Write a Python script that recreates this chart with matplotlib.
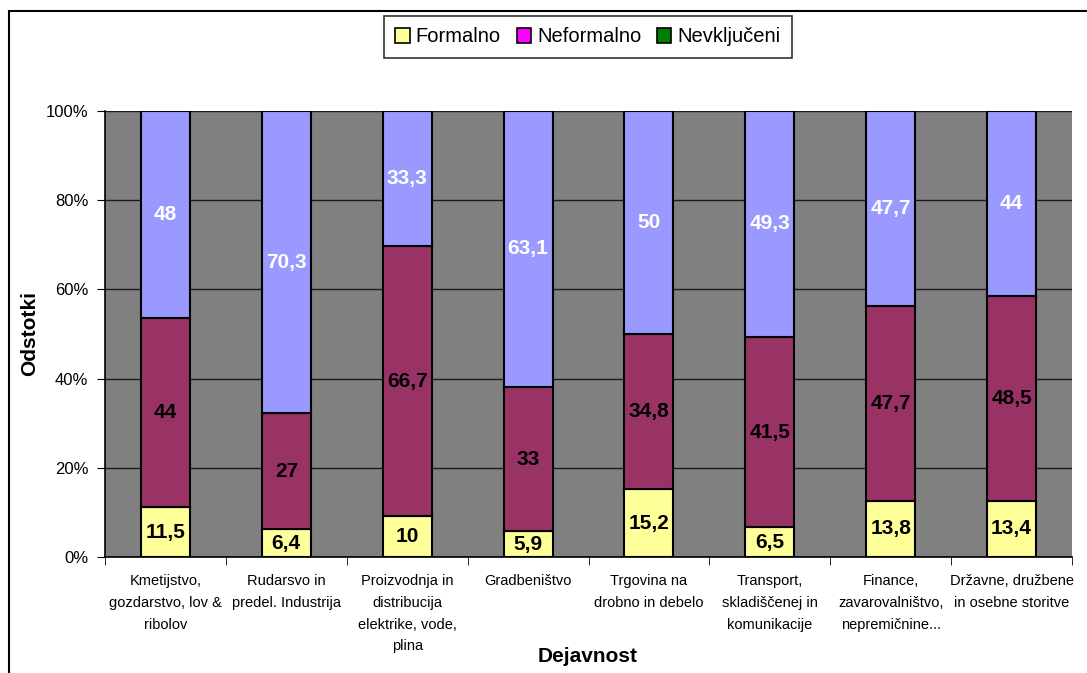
import matplotlib.pyplot as plt
import numpy as np
from matplotlib.patches import Patch, Rectangle

plt.rcParams['font.family'] = ['Liberation Sans', 'DejaVu Sans']

categories = [
    'Kmetijstvo,\ngozdarstvo, lov &\nribolov',
    'Rudarsvo in\npredel. Industrija',
    'Proizvodnja in\ndistribucija\nelektrike, vode,\nplina',
    'Gradbeništvo',
    'Trgovina na\ndrobno in debelo',
    'Transport,\nskladiščenej in\nkomunikacije',
    'Finance,\nzavarovalništvo,\nnepremičnine...',
    'Državne, družbene\nin osebne storitve',
]
formalno = [11.5, 6.4, 10, 5.9, 15.2, 6.5, 13.8, 13.4]
neformalno = [44, 27, 66.7, 33, 34.8, 41.5, 47.7, 48.5]
nevkljuceni = [48, 70.3, 33.3, 63.1, 50, 49.3, 47.7, 44]

series = [formalno, neformalno, nevkljuceni]
bar_colors = ['#FFFF99', '#993366', '#9999FF']
text_colors = ['black', 'black', 'white']
legend_names = ['Formalno', 'Neformalno', 'Nevključeni']
legend_colors = ['#FFFF99', '#FF00FF', '#008000']

fig = plt.figure(figsize=(10.87, 6.73), dpi=100)
ax = fig.add_axes([105 / 1087, 116 / 673, 967 / 1087, 446 / 673])
ax.set_facecolor('#808080')

data = np.array(series, dtype=float)
shares = data / data.sum(axis=0) * 100
x = np.arange(len(categories))
bottom = np.zeros(len(categories))
for vals, share, col, tcol in zip(series, shares, bar_colors, text_colors):
    ax.bar(x, share, 0.405, bottom=bottom, color=col, edgecolor='black',
           linewidth=1.5, zorder=3)
    for xi, b, s, v in zip(x, bottom, share, vals):
        label = ('%g' % v).replace('.', ',')
        ax.text(xi, b + s / 2, label, ha='center', va='center', fontsize=15,
                fontweight='bold', color=tcol, zorder=4)
    bottom += share

ax.set_xlim(-0.5, len(categories) - 0.5)
ax.set_ylim(0, 100)
ax.set_yticks(np.arange(0, 101, 20))
ax.set_yticklabels(['%d%%' % v for v in range(0, 101, 20)], fontsize=12)
ax.yaxis.grid(True, color='#1a1a1a', linewidth=1, zorder=1)
ax.set_axisbelow(True)

# category labels centred, ticks on the boundaries
ax.set_xticks(x)
ax.set_xticklabels(categories, fontsize=10.5, linespacing=1.72, va='top')
ax.tick_params(axis='x', length=0, pad=12)
ax.set_xticks(np.arange(-0.5, len(categories)), minor=True)
ax.tick_params(axis='x', which='minor', length=6, direction='out')
ax.tick_params(axis='y', length=6, direction='out', pad=6)

for side in ('top', 'right'):
    ax.spines[side].set_visible(False)
ax.spines['left'].set_linewidth(1.2)
ax.spines['bottom'].set_linewidth(1.2)

fig.text(30 / 1087, 1 - 333 / 673, 'Odstotki', rotation=90, ha='center',
         va='center', fontsize=15, fontweight='bold')
fig.text(588 / 1087, 1 - 657 / 673, 'Dejavnost', ha='center', va='center',
         fontsize=15, fontweight='bold')

handles = [Patch(facecolor=c, edgecolor='black', linewidth=1.2) for c in legend_colors]
leg = fig.legend(handles, legend_names, loc='center', ncol=3,
                 bbox_to_anchor=(588 / 1087, 1 - 37 / 673), fontsize=14.5,
                 frameon=True, fancybox=False, edgecolor='black',
                 handlelength=0.7, handleheight=0.7, handletextpad=0.3,
                 columnspacing=0.8, borderpad=0.55)
leg.get_frame().set_linewidth(1.2)

# outer chart frame
fig.add_artist(Rectangle((9 / 1087, -0.1), 1.2, 1.1 - 11 / 673, fill=False,
                         edgecolor='black', linewidth=1.5,
                         transform=fig.transFigure))

fig.savefig('out.png', dpi=100)
